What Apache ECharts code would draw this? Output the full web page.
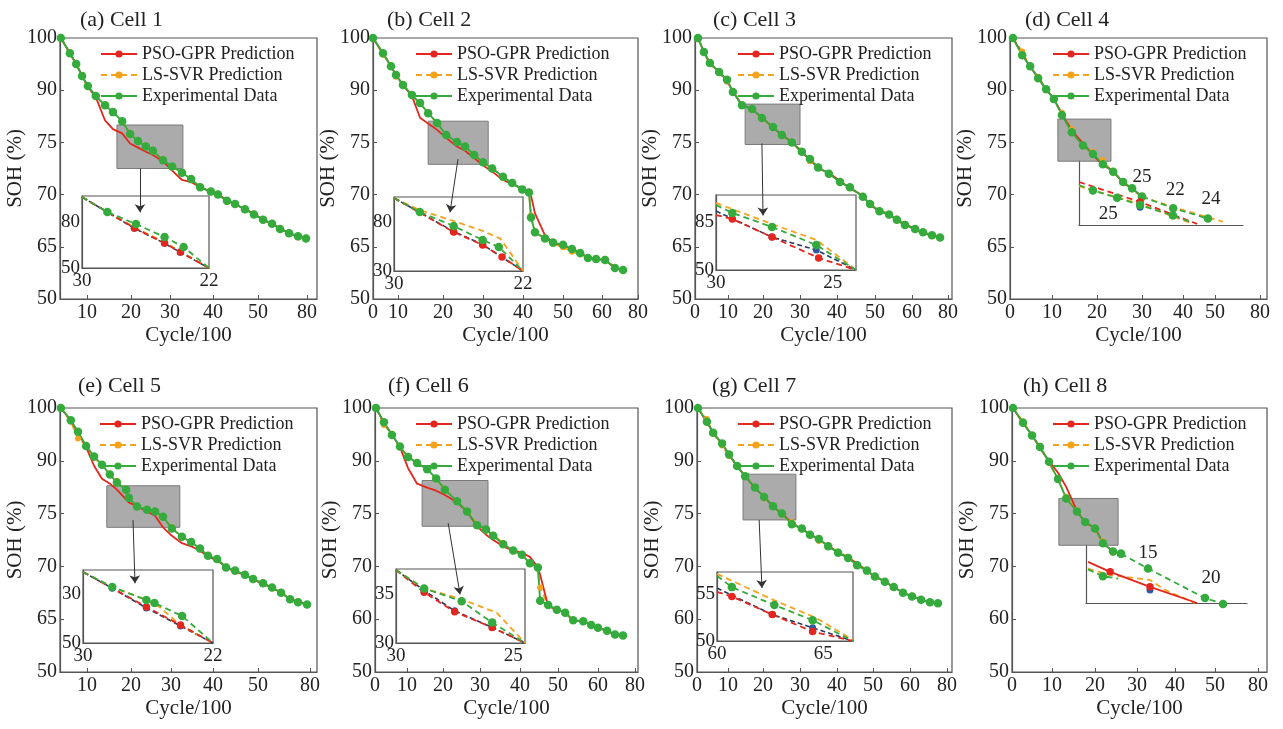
<!DOCTYPE html>
<html><head><meta charset="utf-8">
<script src="https://cdn.jsdelivr.net/npm/echarts@6/dist/echarts.min.js"></script>
<style>html,body{margin:0;padding:0;background:#fff}#c{width:1283px;height:729px}</style>
</head><body><div id="c"></div>
<script>
// ================= DATA =================
const SERIES_NAMES = ['PSO-GPR Prediction','LS-SVR Prediction','Experimental Data'];
const TITLES = ['(a) Cell 1','(b) Cell 2','(c) Cell 3','(d) Cell 4','(e) Cell 5','(f) Cell 6','(g) Cell 7','(h) Cell 8'];
const Y_TICKS_65 = [50,65,70,75,90,100];
const Y_TICKS_60 = [50,60,70,75,90,100];
const X_LABELS_SHORT = [10,20,30,40,50,80];
const X_LABELS_FULL = [0,10,20,30,40,50,60,80];
const X_LABELS_D = [0,10,20,30,40,50,80];

// Cell 1
const A_cycle = [4.2,6.2,7.6,8.9,10.2,12,14.1,15.9,18,19.8,21.8,23.8,25.6,28.2,30.5,32.8,34.9,37,39.5,41.1,43.1,44.9,47.1,49.1,53.1,58.6,63.5,69,74.5,79.4];
const A_exp = [100,97.1,95,92.7,90.8,88.3,85.7,83.7,81.1,77.4,75.4,74.6,74.2,73.3,72.7,72.1,71.5,70.7,70.3,70,69.4,69.1,68.6,68.1,67.6,67.2,66.7,66.3,66,65.8];
const A_gpr = [100,97,95.1,92.8,90.6,88,81.3,78.8,77.6,74.9,74.5,74.1,73.8,73.2,72.3,71.4,71.2,70.7,70.3,70,69.5,69.1,68.6,68.2,67.6,67.2,66.8,66.3,66,65.8];
const A_svr = [100,97.3,94.8,92.9,90.6,88.4,85.5,83.9,80.9,77.6,75.3,74.7,74.1,73.4,72.6,72.2,71.4,70.8,70.2,70.1,69.3,69.2,68.5,68.2,67.5,67.3,66.6,66.4,65.9,65.9];
const A_zoomBox = [[16.8,80],[33,72.5]];
const A_arrow = [[22.3,72.5],[22.3,68.3]];
const AI_xLabels = [30,22], AI_yLabels = [50,80];
const AI_exp = [[30,96.3],[28.4,86.5],[26.6,78.7],[24.8,70.2],[23.6,63.7],[22,50]];
const AI_gpr = [[30,96.3],[26.7,76.1],[24.8,66.3],[23.8,60.4],[22,50]];
const AI_svr = [[30,96.3],[26.7,76.5],[24.8,66.8],[23.8,60.7],[22,50]];
const AI_dark = [[30,96.3],[26.7,75.9],[24.8,66.1],[23.8,60.2],[22,50]];

// Cell 2
const B_cycle = [0,4,7.2,9.2,11.1,13.1,14.9,16.7,18.7,20.8,23.5,25.5,27.8,30,32.3,35,37.3,39.8,41.5,42,43,45.5,47.5,50,52.3,54.4,56.4,58.5,61.7,67.2,71.7];
const B_exp = [100,97.1,94.6,92.9,91,88.6,86.3,83.4,80.6,77.1,75.1,74.6,73.8,73.1,72.5,71.7,71.1,70.5,70.2,67.8,66.4,65.8,65.4,65.2,64.4,63.2,61.8,61.5,61.2,58.9,58.3];
const B_gpr = [100,97.1,94.6,92.9,91,88.3,82.1,80.4,78.6,76.3,74.6,74.2,73.5,72.8,72.2,71.4,71,70.6,70.2,69.9,68.2,66.1,65.4,65.1,64.5,63.3,61.9,61.4,61.3,58.8,58.3];
const B_svr = [100,96.8,94.8,92.6,91.2,88.4,86,83.6,80.3,77.3,75.2,74.5,73.9,73,72.6,71.6,71.2,70.4,70.3,68,66.3,65.9,65.3,64.9,63.6,62.8,61.9,61.3,61.6,59.2,58.4];
const B_zoomBox = [[16.7,81.1],[31.3,72.9]];
const B_arrow = [[23.75,73.4],[21.75,68.3]];
const BI_xLabels = [30,22], BI_yLabels = [30,80];
const BI_exp = [[30,104.5],[28.4,90.2],[26.3,75.9],[24.5,61.6],[23.5,54.5],[22,30]];
const BI_gpr = [[30,104.5],[26.3,69.8],[24.5,56.5],[23.3,44.3],[22,30]];
const BI_svr = [[30,104.5],[28.4,92.2],[26.3,81],[24.5,71],[23.4,63],[22,30]];
const BI_dark = [[30,104.5],[26.3,70.3],[24.5,57],[22,30]];

// Cell 3
const C_cycle = [0.9,2.7,4.5,7.3,9.7,11.4,14,16.9,19.7,22.7,25.1,27.8,30.5,32.7,34.9,37.8,40.8,43.4,46.8,48.7,51.2,53.8,55.9,58.1,61.7,66.1,71.1,75.6];
const C_exp = [100,97.3,95.2,93.5,92,89.5,85.7,84.6,82,79.4,77.1,75,74.1,73.4,72.6,72,71.2,70.7,69.8,69.1,68.4,68.1,67.6,67.1,66.7,66.4,66.1,65.9];
const C_gpr = [100,97.4,95,93.6,91.8,89.6,85.8,84.5,82.2,79.2,77.2,75.1,74,73.4,72.5,72.1,71.3,70.6,69.9,69,68.4,68.2,67.5,67.1,66.8,66.3,66.1,65.9];
const C_svr = [100,97.2,95.4,93.3,91.6,89.8,85.5,84.7,81.7,79.6,76.9,75.1,74.2,73.2,72.7,71.9,71.3,70.6,69.9,69,68.5,68,67.7,67.2,66.6,66.4,66,65.9];
const C_zoomBox = [[14.9,86],[30,74.8]];
const C_arrow = [[19.7,74.9],[20,68]];
const CI_xLabels = [30,25], CI_yLabels = [50,85];
const CI_exp = [[30,97.4],[29.3,91.6],[27.6,81.4],[25.7,68.2],[24,50]];
const CI_gpr = [[30,90.1],[29.3,87.2],[27.6,74],[25.6,58.8],[24,50]];
const CI_svr = [[30,98.9],[27.6,83.5],[25.7,71.9],[24.1,51.5]];
const CI_dark = [[30,93],[27.6,74],[25.7,64.6],[24,50]];

// Cell 4
const D_cycle = [0.7,2.9,4.8,6.7,8.6,10.4,12.2,14.4,16.9,19.1,21.3,23.6,25.8,27.8,30];
const D_exp = [100,96.7,94.6,92.3,90.2,87.5,82.9,77.9,74.7,73.9,72.9,72.2,71.2,70.6,69.8];
const D_gpr = [100,96.9,94.5,92.4,90.1,87.6,83.2,78.4,74.9,73.8,72.8,72.3,71.1,70.6,69.8];
const D_svr = [100,97.4,94.4,92.6,90.3,87.2,83.5,78.8,74.6,74.1,73.3,72.1,71.3,70.5,69.8];
const D_extExp = [[30,69.8],[37.6,68.7],[47.8,67.7]];
const D_extExpTags = ['25','22','24'];
const D_extSvr = [[30,69.8],[37.6,68.8],[55.3,67.4]];
const D_zoomBox = [[11.3,81.7],[23.1,73.2]];
const DI_exp = [[16,70.9],[19.4,70.4],[25.3,69.7],[30.9,69],[38.9,68],[43.1,67.4]];
const DI_expTags = ['','','25','','',''];
const DI_gpr = [[16,71.2],[30.9,69.3],[44.8,67.2]];
const DI_svr = [[16,70.8],[30.9,69.1],[43.1,67.3]];
const DI_dark = [[30.9,68.8]];

// Cell 5
const E_cycle = [4.2,6.4,8,9.8,11.6,13.4,15.2,16.8,18.9,19.5,21.5,24,26,28,30.2,32.6,34.8,36.9,38.8,40.9,42.9,44.9,47.1,48.9,52.9,58.1,63.3,68.5,73.1,78.3];
const E_exp = [100,97.7,95.5,92.8,90.8,88.9,86.1,83.8,81.8,79.5,77,76.1,75.6,74.7,73.6,72.8,72.3,71.7,71,70.7,69.9,69.6,69.2,68.8,68.4,68,67.5,66.9,66.6,66.4];
const E_gpr = [100,97.6,95.4,92.6,88.6,84.9,83.5,81.8,79,78.2,77,75.6,74.8,73.7,72.9,72.2,71.9,71.5,70.9,70.6,69.9,69.5,69.2,68.8,68.3,68,67.5,66.9,66.7,66.4];
const E_svr = [100,97.4,94.2,93,90.6,88.7,86.4,84.3,81.5,79.8,76.8,76.3,75.4,74.6,73.7,72.7,72.4,71.6,71.1,70.6,70,69.5,69.3,68.7,68.5,67.9,67.6,66.8,66.7,66.4];
const E_zoomBox = [[14.5,82.9],[32.1,73.7]];
const E_arrow = [[20.5,74.4],[21,68.4]];
const EI_xLabels = [30,22], EI_yLabels = [30,50];
const EI_exp = [[30,20.8],[28.2,27],[26.1,32.3],[25.6,33.6],[23.9,38.9],[22,50]];
const EI_gpr = [[30,20.8],[26.1,35.2],[24,42.6],[22,50]];
const EI_svr = [[30,20.8],[28.2,27],[26.1,32.3],[25.3,35.2],[24,42.6],[22,50]];
const EI_dark = [[30,20.8],[28.2,27.5],[26.1,35.6],[24,43],[22,50]];

// Cell 6
const F_cycle = [0.3,2.8,5.3,7.8,10.3,12.8,15.6,18.1,20.5,23.8,26.5,29.2,31.5,33.3,35.8,38.3,40.5,42.6,44.7,45.3,47.4,49.7,51.8,53.8,56.3,58.3,60,64.9,69.2,73.5];
const F_exp = [100,97.3,94.9,92.7,90.7,89.4,87.6,85,81.8,78.5,75.6,73.9,73.5,72.9,72.1,71.5,71.1,70.3,69.8,63.5,62.7,61.8,61.2,59.8,59.6,58.9,58.4,57.8,57.1,56.9];
const F_gpr = [100,97.2,95,92.6,87.9,83.5,82.4,81.5,80.3,78.2,75.6,73.8,73,72.5,71.9,71.5,71.3,70.9,69.8,68.4,62.5,61.7,61.3,59.7,59.7,58.8,58.5,57.7,57.2,56.9];
const F_svr = [100,96.8,95.1,92.5,90.9,89.1,87.8,84.6,82.1,78.3,75.8,74,73.4,73,72.2,71.4,71.2,70.2,69.6,66,62.6,61.9,61.1,59.9,59.4,59.1,58.3,57.9,57.1,56.9];
const F_zoomBox = [[14.2,84.4],[32,73.8]];
const F_arrow = [[21.4,74.1],[24.6,64.7]];
const FI_xLabels = [30,25], FI_yLabels = [30,35];
const FI_exp = [[30,37.5],[28.8,35.6],[27.2,34.3],[25.9,32.1],[24.5,30]];
const FI_gpr = [[30,37.5],[28.8,35.2],[27.5,33.2],[25.9,31.6],[24.5,30]];
const FI_svr = [[30,37.5],[28.8,35.6],[27.2,34.5],[25.7,33.1],[24.5,30]];
const FI_dark = [[30,37.5],[28.8,35.4],[27.5,33.3],[25.9,31.6],[24.5,30]];

// Cell 7
const G_cycle = [0.3,3.2,5.2,8.1,10.3,12.6,14.9,17.7,20.3,22.7,25.1,27.8,30.5,32.7,35.1,37.6,40.3,43.1,45.6,48.3,50.5,53.2,55.6,58.1,61.1,66,70.8,75.1];
const G_exp = [100,97.4,95.3,93.3,91.2,88.5,85.6,82.4,79.7,77.1,75,74,73.6,73,72.6,71.9,71.3,70.8,70.1,69.2,68.1,67.1,66.1,65,64.3,63.7,63.2,63];
const G_gpr = [100,97.3,95.4,93.1,91.3,88.3,85.8,82.2,79.9,76.9,75.1,74.1,73.5,73.1,72.5,72,71.3,70.8,70.3,69.1,68.1,67.2,66,65.1,64.3,63.7,63.1,63];
const G_svr = [100,97.9,95.1,92.9,90.9,88.8,85.4,82.6,79.2,77.3,74.9,74.2,73.5,73.1,72.4,72,71.4,70.9,70.2,69.3,68,67.2,66.2,64.9,64.5,63.6,63.2,62.9];
const G_zoomBox = [[14.3,86.2],[28.9,74.4]];
const G_arrow = [[18.9,74.4],[19.7,65.9]];
const GI_xLabels = [60,65], GI_yLabels = [50,55];
const GI_exp = [[60,56.9],[60.7,55.7],[62.7,53.8],[64.5,52.2],[66.4,50]];
const GI_gpr = [[60,55.2],[60.7,54.7],[62.6,52.8],[64.5,51],[66.4,50]];
const GI_svr = [[60,57.1],[62.6,54.4],[64.7,52.4],[66.4,50.1]];
const GI_dark = [[60,55.6],[62.6,52.8],[64.5,51.4],[66.4,50]];

// Cell 8
const H_cycle = [0.25,2.75,5,7,9.25,11.4,13.3,15.8,17.7,20,21.9,24.3,26.2];
const H_exp = [100,97.2,94.8,92.6,89.7,84.8,79.3,75.6,74.2,73.6,72.2,71.4,71.2];
const H_gpr = [100,97.1,94.9,92.4,89.9,86.6,82.6,75.8,74.1,73.7,72.2,71.4,71.2];
const H_svr = [100,97.5,94.7,92.8,89.5,84.5,79.8,76,74.3,73.5,72.4,71.3,71.2];
const H_extExp = [[26.2,71.2],[32.9,69.6],[47.5,64],[55.6,62.9]];
const H_extExpTags = ['','15','20',''];
const H_zoomBox = [[11.6,79.3],[25.5,72]];
const HI_exp = [[18.5,68.1],[22.2,67],[26,66.6]];
const HI_expTags = ['','',''];
const HI_gpr = [[18.5,69.3],[24,67.7],[33.9,65.3],[45.6,62.7]];
const HI_svr = [[18.5,68.2],[24,67.2],[33.9,66.4],[37.6,64.8],[45.1,62.7]];
const HI_dark = [[33.9,64.8]];

// ================= LAYOUT / STYLE =================
const FONT = '"Liberation Serif","Times New Roman",serif';
const COL = {exp:'#36ab3d', gpr:'#e4261e', svr:'#f5a21c', dark:'#2c3b5a', axis:'#555', text:'#222'};
const FS = {title:22, tick:20, name:21, legend:18, inset:19};
const LAYOUT = [
 {grid:[60,38,257,261], title:[80,9], legend:[100,45], xv:[4,10,20,30,40,50,80,82], xp:[0,27,71,110,153,198,247,257],
  inset:{rect:[82,196,127,72], boxed:true, x:{min:22,max:30,inverse:true}, y:{min:50,max:97}}},
 {grid:[373,38,265,261], title:[387,9], legend:[415,45], xv:[0,10,20,30,40,50,60,80], xp:[0,25,70,110,150,190,229,265],
  inset:{rect:[394,197,129,74], boxed:true, x:{min:22,max:30,inverse:true}, y:{min:30,max:105.5}}},
 {grid:[695,38,257,261], title:[713,9], legend:[737,45], xv:[0,10,20,30,40,50,60,80], xp:[0,33,68,105,142,180,217,253],
  inset:{rect:[716,195,140,75], boxed:true, x:{min:24,max:30,inverse:true}, y:{min:50,max:104.7}}},
 {grid:[1010,38,257,261], title:[1025,9], legend:[1052,45], xv:[0,10,20,30,40,50,80], xp:[0,42,87,132,173,205,250],
  inset:{rect:[1079,161,164,64], boxed:false, x:{min:16,max:56}, y:{min:67.1,max:73.2}},
  extTag:[{pos:'top',off:[0,0],d:6},{pos:'top',off:[2,0],d:4},{pos:'top',off:[3,0],d:6}],
  inTag:[null,null,{pos:'bottom',off:[-9,0],d:3},null,null,null]},
 {grid:[60,408,257,264], title:[78,375], legend:[99,415], xv:[4,10,20,30,40,50,80,82], xp:[0,27,71,111,153,198,250,257],
  inset:{rect:[83,570,130,73], boxed:true, x:{min:22,max:30,inverse:true}, y:{min:20,max:50,inverse:true}}},
 {grid:[375,408,263,264], title:[388,375], legend:[415,415], xv:[0,10,20,30,40,50,60,80], xp:[0,32,68,105,145,183,223,260],
  inset:{rect:[396,569,129,74], boxed:true, x:{min:24.5,max:30,inverse:true}, y:{min:30,max:37.6}}},
 {grid:[697,408,255,264], title:[712,375], legend:[737,415], xv:[0,10,20,30,40,50,60,80], xp:[0,31,66,103,140,176,213,250],
  inset:{rect:[717,572,136,69], boxed:true, x:{min:60,max:66.4}, y:{min:50,max:57.3}}},
 {grid:[1012,408,255,264], title:[1023,375], legend:[1052,415], xv:[0,10,20,30,40,50,80], xp:[0,40,83,125,163,203,246],
  inset:{rect:[1086,545,161,58], boxed:false, gprSolid:true, x:{min:18,max:58}, y:{min:62.7,max:72}},
  extTag:[null,{pos:'top',off:[0,0],d:2},{pos:'top',off:[6,0],d:6},null]}
];

const PANELS = [
 {cyc:A_cycle, exp:A_exp, gpr:A_gpr, svr:A_svr, yt:Y_TICKS_65, xl:X_LABELS_SHORT, box:A_zoomBox, arrow:A_arrow,
  ins:{xl:AI_xLabels, yl:AI_yLabels, exp:AI_exp, gpr:AI_gpr, svr:AI_svr, dark:AI_dark}},
 {cyc:B_cycle, exp:B_exp, gpr:B_gpr, svr:B_svr, yt:Y_TICKS_65, xl:X_LABELS_FULL, box:B_zoomBox, arrow:B_arrow,
  ins:{xl:BI_xLabels, yl:BI_yLabels, exp:BI_exp, gpr:BI_gpr, svr:BI_svr, dark:BI_dark}},
 {cyc:C_cycle, exp:C_exp, gpr:C_gpr, svr:C_svr, yt:Y_TICKS_65, xl:X_LABELS_FULL, box:C_zoomBox, arrow:C_arrow,
  ins:{xl:CI_xLabels, yl:CI_yLabels, exp:CI_exp, gpr:CI_gpr, svr:CI_svr, dark:CI_dark}},
 {cyc:D_cycle, exp:D_exp, gpr:D_gpr, svr:D_svr, yt:Y_TICKS_65, xl:X_LABELS_D, box:D_zoomBox, arrow:null,
  ext:{exp:D_extExp, tags:D_extExpTags, svr:D_extSvr},
  ins:{exp:DI_exp, tags:DI_expTags, gpr:DI_gpr, svr:DI_svr, dark:DI_dark}},
 {cyc:E_cycle, exp:E_exp, gpr:E_gpr, svr:E_svr, yt:Y_TICKS_65, xl:X_LABELS_SHORT, box:E_zoomBox, arrow:E_arrow,
  ins:{xl:EI_xLabels, yl:EI_yLabels, exp:EI_exp, gpr:EI_gpr, svr:EI_svr, dark:EI_dark}},
 {cyc:F_cycle, exp:F_exp, gpr:F_gpr, svr:F_svr, yt:Y_TICKS_60, xl:X_LABELS_FULL, box:F_zoomBox, arrow:F_arrow,
  ins:{xl:FI_xLabels, yl:FI_yLabels, exp:FI_exp, gpr:FI_gpr, svr:FI_svr, dark:FI_dark}},
 {cyc:G_cycle, exp:G_exp, gpr:G_gpr, svr:G_svr, yt:Y_TICKS_60, xl:X_LABELS_FULL, box:G_zoomBox, arrow:G_arrow,
  ins:{xl:GI_xLabels, yl:GI_yLabels, exp:GI_exp, gpr:GI_gpr, svr:GI_svr, dark:GI_dark}},
 {cyc:H_cycle, exp:H_exp, gpr:H_gpr, svr:H_svr, yt:Y_TICKS_60, xl:X_LABELS_D, box:H_zoomBox, arrow:null,
  ext:{exp:H_extExp, tags:H_extExpTags, svr:null},
  ins:{exp:HI_exp, tags:HI_expTags, gpr:HI_gpr, svr:HI_svr, dark:HI_dark}}
];

// piecewise-linear axis transform (the source figure uses non-uniform tick spacing)
function interp(v, xs, ys){
  const n = xs.length; let i = 0;
  if (v <= xs[0]) i = 0; else if (v >= xs[n-1]) i = n-2;
  else { while (!(v >= xs[i] && v <= xs[i+1])) i++; }
  return ys[i] + (v - xs[i]) * (ys[i+1] - ys[i]) / (xs[i+1] - xs[i]);
}
function nearestIdx(arr, v){ let b=0; for(let k=1;k<arr.length;k++) if(Math.abs(arr[k]-v)<Math.abs(arr[b]-v)) b=k; return b; }

const txt = (size)=>({fontFamily:FONT, fontSize:size, color:COL.text});
const grids=[], xAxes=[], yAxes=[], series=[], titles=[], legends=[];

PANELS.forEach((p, i) => {
  const L = LAYOUT[i];
  const W = L.grid[2];
  const xFrac = L.xp.map(v => v / W);
  const X = v => interp(v, L.xv, xFrac);
  const yIdx = p.yt.map((_, k) => k);
  const Y = v => interp(v, p.yt, yIdx);
  const gm = grids.length;
  grids.push({left:L.grid[0], top:L.grid[1], width:L.grid[2], height:L.grid[3], show:true, borderColor:COL.axis, borderWidth:1.2, backgroundColor:'transparent'});
  const xPos = p.xl.map(v => X(v));
  xAxes.push({gridIndex:gm, type:'value', min:0, max:1, name:'Cycle/100', nameLocation:'middle', nameGap:26, nameMoveOverlap:false,
    nameTextStyle:txt(FS.name),
    axisLine:{show:true, onZero:false, lineStyle:{color:COL.axis, width:1.2}},
    axisTick:{show:true, inside:true, length:4, customValues:xPos, lineStyle:{color:COL.axis}},
    axisLabel:{show:true, customValues:xPos, formatter:v => String(p.xl[nearestIdx(xPos, v)]), margin:4, ...txt(FS.tick)},
    splitLine:{show:false}});
  yAxes.push({gridIndex:gm, type:'value', min:0, max:5, name:'SOH (%)', nameLocation:'middle', nameGap:34, nameMoveOverlap:false,
    nameTextStyle:txt(FS.name),
    axisLine:{show:true, onZero:false, lineStyle:{color:COL.axis, width:1.2}},
    axisTick:{show:true, inside:true, length:4, customValues:yIdx, lineStyle:{color:COL.axis}},
    axisLabel:{show:true, customValues:yIdx, formatter:v => String(p.yt[Math.round(v)]), margin:3, ...txt(FS.tick)},
    splitLine:{show:false}});

  const mk = arr => p.cyc.map((c, k) => [X(c), Y(arr[k])]);
  const base = {type:'line', xAxisIndex:gm, yAxisIndex:gm, silent:true, animation:false, symbol:'circle'};
  series.push(Object.assign({}, base, {name:SERIES_NAMES[1], data:mk(p.svr),
    lineStyle:{color:COL.svr, width:1.8, type:[6,4]}, itemStyle:{color:COL.svr}, symbolSize:6, showSymbol:true,
    markArea:{silent:true, itemStyle:{color:'rgba(120,120,120,0.62)', borderColor:'#7a7a7a', borderWidth:1},
      data:[[{coord:[X(p.box[0][0]), Y(p.box[0][1])]}, {coord:[X(p.box[1][0]), Y(p.box[1][1])]}]]}}));
  series.push(Object.assign({}, base, {name:SERIES_NAMES[0], data:mk(p.gpr),
    lineStyle:{color:COL.gpr, width:1.8}, itemStyle:{color:COL.gpr}, symbolSize:7, showSymbol:false}));
  const expSeries = Object.assign({}, base, {name:SERIES_NAMES[2], data:mk(p.exp),
    lineStyle:{color:COL.exp, width:1.9}, itemStyle:{color:COL.exp}, symbolSize:8.5, showSymbol:true});
  if (p.arrow) {
    expSeries.markLine = {silent:true, symbol:['none','arrow'], symbolSize:8, label:{show:false},
      lineStyle:{color:'#333', width:1, type:'solid'},
      data:[[{coord:[X(p.arrow[0][0]), Y(p.arrow[0][1])]}, {coord:[X(p.arrow[1][0]), Y(p.arrow[1][1])]}]]};
  }
  series.push(expSeries);

  const tagItems = (pts, tags, lay, conv) => pts.map((pt, k) => {
    const it = {value: conv(pt)};
    if (tags && tags[k] && lay && lay[k]) it.label = {show:true, formatter:tags[k], position:lay[k].pos, distance:lay[k].d, offset:lay[k].off, ...txt(FS.inset)};
    return it;
  });
  if (p.ext) {
    const conv = pt => [X(pt[0]), Y(pt[1])];
    if (p.ext.svr) series.push(Object.assign({}, base, {name:'ext-svr', data:p.ext.svr.map(conv),
      lineStyle:{color:COL.svr, width:1.8, type:[6,4]}, itemStyle:{color:COL.svr}, showSymbol:false}));
    series.push(Object.assign({}, base, {name:'ext-exp', data:tagItems(p.ext.exp, p.ext.tags, L.extTag, conv),
      lineStyle:{color:COL.exp, width:1.8, type:[6,4]}, itemStyle:{color:COL.exp}, symbolSize:8.5, showSymbol:true}));
  }

  titles.push({text:TITLES[i], left:L.title[0], top:L.title[1], padding:0, textStyle:{...txt(FS.title), fontWeight:'normal'}});
  legends.push({data:SERIES_NAMES, orient:'vertical', left:L.legend[0], top:L.legend[1], padding:0,
    itemWidth:36, itemHeight:9, itemGap:3, selectedMode:false, textStyle:txt(FS.legend)});

  // inset
  const I = p.ins, LI = L.inset;
  const gi = grids.length;
  grids.push({left:LI.rect[0], top:LI.rect[1], width:LI.rect[2], height:LI.rect[3], show:LI.boxed, borderColor:COL.axis, borderWidth:1.2, backgroundColor:'transparent'});
  xAxes.push({gridIndex:gi, type:'value', min:LI.x.min, max:LI.x.max, inverse:!!LI.x.inverse,
    axisLine:{show:true, onZero:false, lineStyle:{color:COL.axis, width:1.2}}, axisTick:{show:false},
    axisLabel:{show:LI.boxed, customValues:I.xl, formatter:v => String(Math.round(v)), margin:4, ...txt(FS.inset)},
    splitLine:{show:false}});
  yAxes.push({gridIndex:gi, type:'value', min:LI.y.min, max:LI.y.max, inverse:!!LI.y.inverse,
    axisLine:{show:true, onZero:false, lineStyle:{color:COL.axis, width:1.2}}, axisTick:{show:false},
    axisLabel:{show:LI.boxed, customValues:I.yl, formatter:v => String(Math.round(v)), margin:2, ...txt(FS.inset)},
    splitLine:{show:false}});
  const inner = (arr, show) => arr.map((pt, k) => ({value:pt,
    symbol:(show && (arr.length === 1 || (k > 0 && k < arr.length - 1))) ? 'circle' : 'none'}));
  const ib = {type:'line', xAxisIndex:gi, yAxisIndex:gi, silent:true, animation:false};
  series.push(Object.assign({}, ib, {name:'in-dark', data:inner(I.dark, true),
    lineStyle:{color:COL.dark, width:1.6, type:[5,3]}, itemStyle:{color:'#2f5aa0'}, symbolSize:7}));
  series.push(Object.assign({}, ib, {name:'in-svr', data:inner(I.svr, false),
    lineStyle:{color:COL.svr, width:1.8, type:[6,4]}, itemStyle:{color:COL.svr}, symbolSize:6}));
  series.push(Object.assign({}, ib, {name:'in-gpr', data:inner(I.gpr, true),
    lineStyle:{color:COL.gpr, width:1.8, type:LI.gprSolid ? 'solid' : [6,4]}, itemStyle:{color:COL.gpr}, symbolSize:7.5}));
  const expItems = inner(I.exp, true);
  if (I.tags && L.inTag) I.tags.forEach((t, k) => { if (t && L.inTag[k]) expItems[k].label = {show:true, formatter:t, position:L.inTag[k].pos, distance:L.inTag[k].d, offset:L.inTag[k].off, ...txt(FS.inset)}; });
  series.push(Object.assign({}, ib, {name:'in-exp', data:expItems,
    lineStyle:{color:COL.exp, width:1.8, type:[6,4]}, itemStyle:{color:COL.exp}, symbolSize:8.5}));
});

const chart = echarts.init(document.getElementById('c'), null, {renderer:'canvas'});
chart.setOption({animation:false, backgroundColor:'#fff', title:titles, legend:legends, grid:grids, xAxis:xAxes, yAxis:yAxes, series:series});
</script></body></html>
